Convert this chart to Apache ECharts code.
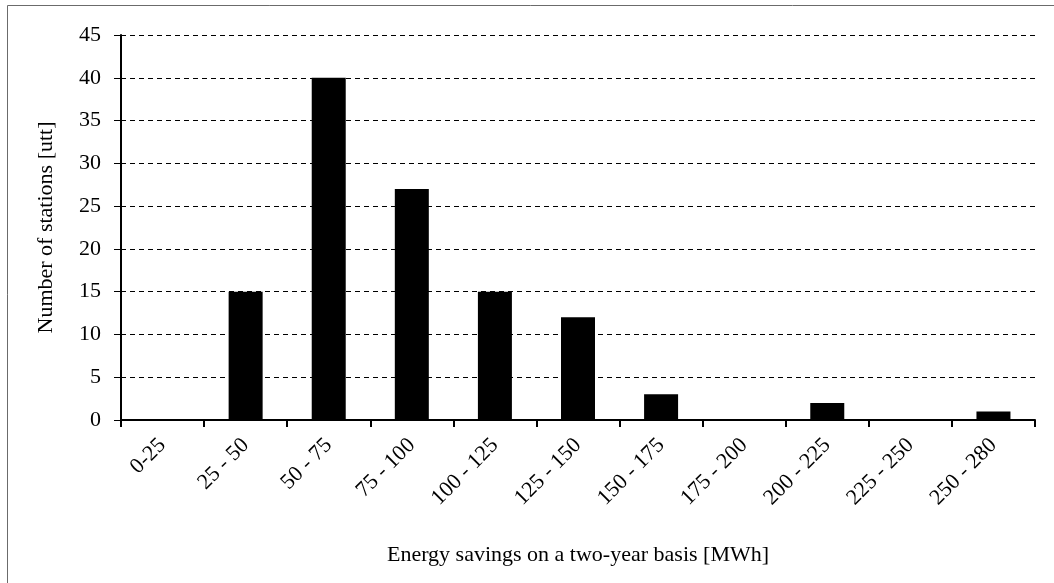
<!DOCTYPE html>
<html>
<head>
<meta charset="utf-8">
<script src="https://cdn.jsdelivr.net/npm/echarts@6/dist/echarts.min.js"></script>
<style>
  html, body { margin: 0; padding: 0; background: #fff; }
  #chart { width: 1054px; height: 583px; }
</style>
</head>
<body>
<div id="chart"></div>
<script>
// Energy savings bins (MWh, two-year basis) and station counts per bin
const categories = ['0-25', '25 - 50', '50 - 75', '75 - 100', '100 - 125', '125 - 150',
                    '150 - 175', '175 - 200', '200 - 225', '225 - 250', '250 - 280'];
const stationCounts = [0, 15, 40, 27, 15, 12, 3, 0, 2, 0, 1];
const yTicks = { min: 0, max: 45, interval: 5 };

const serif = '"Liberation Serif", "DejaVu Serif", serif';
const chart = echarts.init(document.getElementById('chart'), null, { renderer: 'canvas' });

chart.setOption({
  animation: false,
  backgroundColor: '#fff',
  grid: { left: 121, right: 19, top: 35, bottom: 163, containLabel: false },
  graphic: [
    { type: 'line', shape: { x1: 7.5, y1: 5.5, x2: 1054, y2: 5.5 }, style: { stroke: '#6b6b6b', lineWidth: 1 } },
    { type: 'line', shape: { x1: 7.5, y1: 5.5, x2: 7.5, y2: 583 }, style: { stroke: '#6b6b6b', lineWidth: 1 } }
  ],
  xAxis: {
    type: 'category',
    data: categories,
    name: 'Energy savings on a two-year basis [MWh]',
    nameLocation: 'middle',
    nameGap: 124,
    nameTextStyle: { fontFamily: serif, fontSize: 22, color: '#000' },
    axisLine: { lineStyle: { color: '#000', width: 2 } },
    axisTick: { show: true, inside: false, length: 7, alignWithLabel: false, lineStyle: { color: '#000', width: 2 } },
    axisLabel: { rotate: 45, fontFamily: serif, fontSize: 22, color: '#000', margin: 22, interval: 0 }
  },
  yAxis: {
    type: 'value',
    min: yTicks.min,
    max: yTicks.max,
    interval: yTicks.interval,
    name: 'Number of stations [utt]',
    nameLocation: 'middle',
    nameGap: 64,
    nameRotate: 90,
    nameTextStyle: { fontFamily: serif, fontSize: 22, color: '#000' },
    axisLine: { show: true, lineStyle: { color: '#000', width: 2 } },
    axisTick: { show: true, inside: false, length: 7, lineStyle: { color: '#000', width: 1 } },
    axisLabel: { fontFamily: serif, fontSize: 22, color: '#000', margin: 20 },
    splitLine: { show: true, lineStyle: { color: '#000', type: [5, 4], width: 1 } }
  },
  series: [{
    type: 'bar',
    data: stationCounts,
    barWidth: 34,
    itemStyle: { color: '#000' }
  }]
});
</script>
</body>
</html>
